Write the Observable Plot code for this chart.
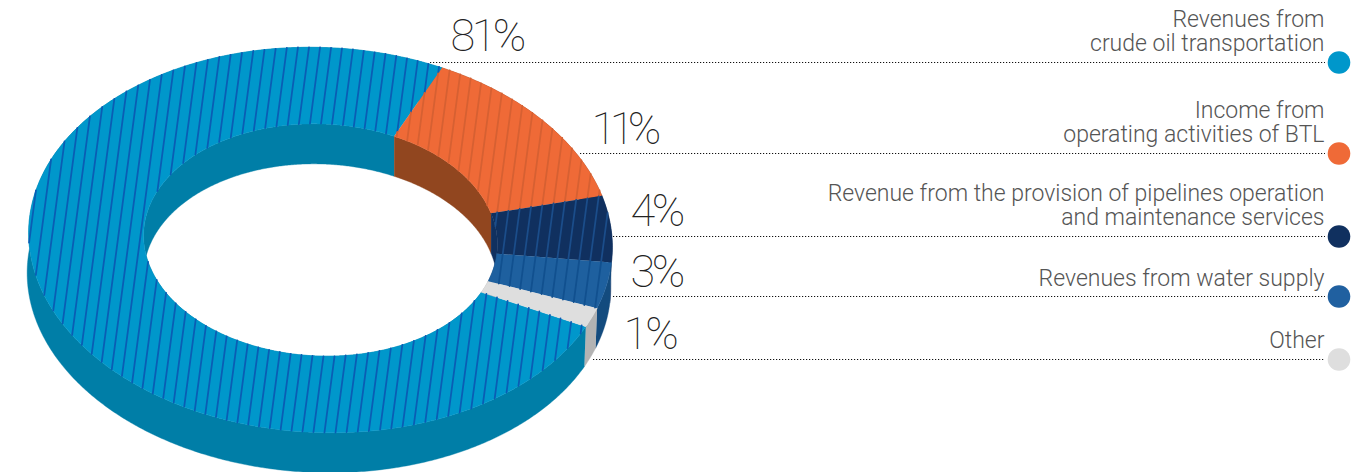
<!DOCTYPE html>
<html>
<head>
<meta charset="utf-8">
<script src="https://cdn.jsdelivr.net/npm/d3@7"></script>
<script src="https://cdn.jsdelivr.net/npm/@observablehq/plot@0.6"></script>
<style>html,body{margin:0;padding:0;background:#fff}svg{display:block}</style>
</head>
<body>
<div id="chart"></div>
<script>
// ---- data ----
const categories = [
  "Revenues from\ncrude oil transportation",
  "Income from\noperating activities of BTL",
  "Revenue from the provision of pipelines operation\nand maintenance services",
  "Revenues from water supply",
  "Other"
];
const shareLabels = ["81%", "11%", "4%", "3%", "1%"];
// angular size of each slice as it is drawn in the picture, degrees, clockwise
const drawnSweep = [270, 50, 20, 14, 6];
const firstEdge = 67 + 270; // start of first slice, degrees counter-clockwise from east

// ---- styles and layout ----
const topColors = ["#0097cb", "#ef6a37", "#10305f", "#1e609f", "#dedede"];
const wallColors = ["#007ea7", "#91461f", "#10305f", "#134b7e", "#b3b3b3"];
const stripeColors = ["#0a5db4", "#d66032", "#1b4d8a", "#11508f", null];
const legendColors = ["#0097cb", "#ef6a37", "#10305f", "#2060a0", "#dedede"];
const W = 1369, H = 472;
const ring = {cx: 320, cy: 239.5, tilt: 0.0428, a: 292, b: 192.5, ia: 177, ib: 116, depth: 40, wallDx: -1.5};
const hatch = {slope: -0.132, step: 11.05, phase: 283};
const leaderY = [62, 153, 236, 296, 359];
const leaderX1 = [430, 580, 613, 613, 593];
const shareX = [450, 591, 630, 630, 623];
const shareY = [50, 143, 225, 286, 348];
const shareTracking = [-3.5, -6.5, -3.5, -3.5, -3];
const labelBottom = [50.5, 141.5, 224.5, 285.5, 347.5];

// ---- geometry ----
const rad = d => d * Math.PI / 180;
function pt(a, b, deg, dy = 0, dx = 0) {
  const X = a * Math.cos(rad(deg)), Y = -b * Math.sin(rad(deg));
  return [ring.cx + X * Math.cos(ring.tilt) - Y * Math.sin(ring.tilt) + dx,
          ring.cy + X * Math.sin(ring.tilt) + Y * Math.cos(ring.tilt) + dy];
}
function arc(a, b, from, to, dy = 0, dx = 0) {
  const n = Math.max(2, Math.ceil(Math.abs(to - from) * 2));
  return d3.range(n + 1).map(i => pt(a, b, from + (to - from) * i / n, dy, dx));
}
// slices: [start, end] going clockwise (decreasing angle)
let e = firstEdge;
const slices = drawnSweep.map((s, i) => { const r = {i, from: e, to: e - s}; e -= s; return r; });

const wallOuter = [], wallInner = [], tops = [], stripes = [];
function pushPoly(store, poly, i, key) { poly.forEach(p => store.push({x: p[0], y: p[1], i, key})); }
// paint order of the outside wall: orange, navy, mid blue, grey, blue
[1, 2, 3, 4, 0].forEach(i => {
  const s = slices[i];
  const p = arc(ring.a, ring.b, s.from, s.to).concat(arc(ring.a, ring.b, s.to, s.from, ring.depth, ring.wallDx));
  pushPoly(wallOuter, p, i, "o" + i);
});
slices.forEach(s => {
  const p = arc(ring.ia, ring.ib, s.from, s.to).concat(arc(ring.ia, ring.ib, s.to, s.from, ring.depth));
  pushPoly(wallInner, p, s.i, "n" + s.i);
});
slices.forEach(s => {
  const poly = arc(ring.a, ring.b, s.from, s.to).concat(arc(ring.ia, ring.ib, s.to, s.from));
  pushPoly(tops, poly, s.i, "t" + s.i);
  if (!stripeColors[s.i]) return;
  // hatch: clip each stripe to the slice by walking along it
  for (let n = -30; n <= 45; n++) {
    const x0 = hatch.phase + n * hatch.step;
    let seg = null, segN = 0;
    for (let y = 40; y <= 440; y += 0.5) {
      const x = x0 + hatch.slope * (y - 240);
      if (d3.polygonContains(poly, [x, y])) {
        if (!seg) { seg = "s" + s.i + "_" + n + "_" + (segN++); }
        stripes.push({x, y, i: s.i, key: seg});
      } else seg = null;
    }
  }
});

const font = "Roboto, sans-serif";
const chart = Plot.plot({
  width: W, height: H, margin: 0,
  style: {background: "#fff", fontFamily: font},
  x: {domain: [0, W], range: [0, W], axis: null},
  y: {domain: [0, H], range: [0, H], axis: null},
  marks: [
    Plot.line(wallOuter, {x: "x", y: "y", z: "key", curve: "linear", fill: d => wallColors[d.i], stroke: d => wallColors[d.i], strokeWidth: 0.4}),
    Plot.line(wallInner, {x: "x", y: "y", z: "key", curve: "linear", fill: d => wallColors[d.i], stroke: d => wallColors[d.i], strokeWidth: 0.4}),
    Plot.line(tops, {x: "x", y: "y", z: "key", curve: "linear", fill: d => topColors[d.i], stroke: d => topColors[d.i], strokeWidth: 0.4}),
    Plot.line(stripes, {x: "x", y: "y", z: "key", curve: "linear", stroke: d => stripeColors[d.i], strokeWidth: 1.8}),
    Plot.ruleY(categories.map((c, i) => i), {y: i => leaderY[i], x1: i => leaderX1[i], x2: 1325, stroke: "#111", strokeWidth: 1.2, strokeDasharray: "1.2 1.8"}),
    Plot.dot(categories.map((c, i) => i), {x: () => 1338.5, y: i => leaderY[i], r: 11.3, fill: i => legendColors[i], stroke: "none"}),
    Plot.text(categories, {x: () => 1324, y: (d, i) => labelBottom[i], text: d => d, textAnchor: "end", lineAnchor: "bottom", lineHeight: 1.05, fontSize: 23, fontWeight: 300, fill: "#555"}),
    Plot.text(shareLabels, {x: (d, i) => shareX[i], y: (d, i) => shareY[i], text: d => d, textAnchor: "start", lineAnchor: "bottom", fontSize: 45, fontWeight: 100, fill: "#222"})
  ]
});
chart.style.fontFamily = font;
chart.querySelectorAll('g[aria-label="text"]')[1].querySelectorAll("text").forEach((t, i) => { t.style.letterSpacing = shareTracking[i] + "px"; });
document.getElementById("chart").append(chart);
</script>
</body>
</html>
